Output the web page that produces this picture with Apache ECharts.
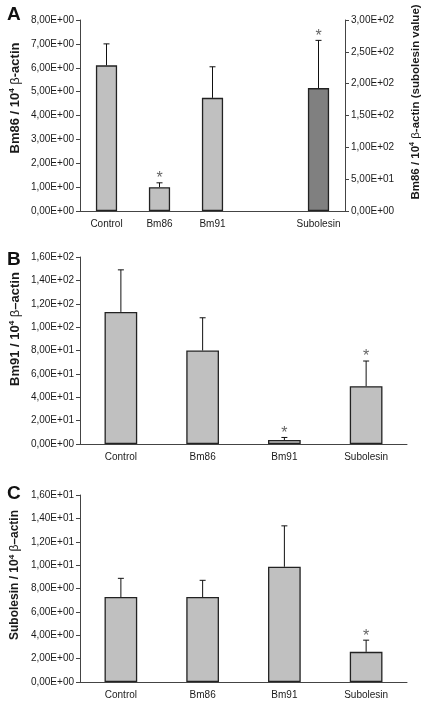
<!DOCTYPE html>
<html><head><meta charset="utf-8">
<script src="https://cdn.jsdelivr.net/npm/echarts@6/dist/echarts.min.js"></script>
<style>html,body{margin:0;padding:0;background:#fff}#c{width:423px;height:702px}</style>
</head><body><div id="c"></div>
<script>
// ---- Data ----
const categoriesA = ['Control', 'Bm86', 'Bm91', '', 'Subolesin'];
const bm86Left = [6.1, 1.0, 4.74, null, null];      // left axis
const bm86LeftSD = [0.9, 0.18, 1.3, null, null];
const bm86Right = [null, null, null, null, 193];    // right axis (subolesin value)
const bm86RightSD = [null, null, null, null, 75];
const sigA = [0, 1, 0, 0, 1];

const categoriesBC = ['Control', 'Bm86', 'Bm91', 'Subolesin'];
const bm91Values = [113, 80, 3.4, 49.5];
const bm91SD = [36, 28, 2.2, 21.5];
const sigB = [0, 0, 1, 1];

const subolesinValues = [7.27, 7.27, 9.86, 2.58];
const subolesinSD = [1.6, 1.43, 3.5, 1.0];
const sigC = [0, 0, 0, 1];

const axisA = {min: 0, max: 8, interval: 1};
const axisAR = {min: 0, max: 300, interval: 50};
const axisB = {min: 0, max: 160, interval: 20};
const axisC = {min: 0, max: 16, interval: 2};

// ---- Helpers ----
const FONT = 'Liberation Sans, Arial, sans-serif';
const TXT = '#1a1a1a';
function fmt(v) {
  const parts = v.toExponential(2).split('e');
  const e = parts[1];
  return parts[0].replace('.', ',') + 'E' + e[0] + e.slice(1).padStart(2, '0');
}
function errData(vals, sds, sig) {
  const out = [];
  vals.forEach((v, i) => { if (v != null) out.push([i, v, sds[i], sig[i]]); });
  return out;
}
function renderErr(params, api) {
  const i = api.value(0), v = api.value(1), sd = api.value(2), s = api.value(3);
  const base = api.coord([i, v]);
  const top = api.coord([i, v + sd]);
  const cap = 3;
  const children = [
    {type: 'line', shape: {x1: base[0], y1: base[1], x2: top[0], y2: top[1]}, style: {stroke: '#111', lineWidth: 1}},
    {type: 'line', shape: {x1: top[0] - cap, y1: top[1], x2: top[0] + cap, y2: top[1]}, style: {stroke: '#111', lineWidth: 1}}
  ];
  if (s) children.push({type: 'text', x: top[0], y: top[1] + 4, style: {text: '*', fontSize: 16, fontFamily: FONT, fill: '#666', align: 'center', verticalAlign: 'bottom'}});
  return {type: 'group', children: children};
}
function xAx(idx, cats) {
  return {type: 'category', gridIndex: idx, data: cats,
    axisLine: {lineStyle: {color: '#444'}}, axisTick: {length: 4, lineStyle: {color: '#444'}},
    axisLabel: {color: TXT, fontSize: 10, fontFamily: FONT, margin: 8, interval: 0}};
}
function yAx(idx, cfg, pos) {
  return Object.assign({type: 'value', gridIndex: idx, position: pos || 'left',
    splitLine: {show: false},
    axisLine: {show: true, lineStyle: {color: '#444'}},
    axisTick: {show: true, length: 4, lineStyle: {color: '#444'}},
    axisLabel: {color: TXT, fontSize: 10, fontFamily: FONT, margin: 6, formatter: fmt}}, cfg);
}
const barStyle = {color: '#c0c0c0', borderColor: '#222', borderWidth: 1.3};
function richFor(size) {
  return {
    b: {fontSize: size, fontWeight: 'bold', fontFamily: FONT, color: TXT},
    sup: {fontSize: Math.round(size * 0.65), fontWeight: 'bold', fontFamily: FONT, color: TXT, verticalAlign: 'top', padding: [0, 0, 7, 0]},
    g: {fontSize: size, fontFamily: FONT, color: TXT}
  };
}
function title(x, y, text, size) {
  return {type: 'text', x: x, y: y, rotation: Math.PI / 2,
    style: {text: text, rich: richFor(size), align: 'center', verticalAlign: 'middle', fill: TXT, fontSize: size, fontFamily: FONT}};
}
function letter(x, y, t) {
  return {type: 'text', x: x, y: y, style: {text: t, fontSize: 19, fontWeight: 'bold', fontFamily: FONT, fill: '#111', verticalAlign: 'top'}};
}

const chart = echarts.init(document.getElementById('c'), null, {renderer: 'canvas'});
chart.setOption({
  animation: false,
  backgroundColor: '#fff',
  grid: [
    {left: 80, top: 20, width: 265, height: 191},
    {left: 80, top: 257, width: 327, height: 187},
    {left: 80, top: 495, width: 327, height: 187}
  ],
  xAxis: [xAx(0, categoriesA), xAx(1, categoriesBC), xAx(2, categoriesBC)],
  yAxis: [
    yAx(0, axisA),
    yAx(0, axisAR, 'right'),
    yAx(1, axisB),
    yAx(2, axisC)
  ],
  series: [
    {type: 'bar', xAxisIndex: 0, yAxisIndex: 0, data: bm86Left, barWidth: '40%', barGap: '-100%', itemStyle: barStyle},
    {type: 'bar', xAxisIndex: 0, yAxisIndex: 1, data: bm86Right, barWidth: '40%', barGap: '-100%', itemStyle: Object.assign({}, barStyle, {color: '#808080'})},
    {type: 'custom', xAxisIndex: 0, yAxisIndex: 0, data: errData(bm86Left, bm86LeftSD, sigA), renderItem: renderErr, z: 5},
    {type: 'custom', xAxisIndex: 0, yAxisIndex: 1, data: errData(bm86Right, bm86RightSD, sigA), renderItem: renderErr, z: 5},
    {type: 'bar', xAxisIndex: 1, yAxisIndex: 2, data: bm91Values, barWidth: '40%', itemStyle: barStyle},
    {type: 'custom', xAxisIndex: 1, yAxisIndex: 2, data: errData(bm91Values, bm91SD, sigB), renderItem: renderErr, z: 5},
    {type: 'bar', xAxisIndex: 2, yAxisIndex: 3, data: subolesinValues, barWidth: '40%', itemStyle: barStyle},
    {type: 'custom', xAxisIndex: 2, yAxisIndex: 3, data: errData(subolesinValues, subolesinSD, sigC), renderItem: renderErr, z: 5}
  ],
  graphic: [
    letter(7, 5, 'A'), letter(7, 250, 'B'), letter(7, 484, 'C'),
    title(15, 98, '{b|Bm86 / 10}{sup|4}{g| β}{b|-actin}', 13),
    title(416, 102, '{b|Bm86 / 10}{sup|4}{g| β}{b|-actin (subolesin value)}', 11.5),
    title(15, 329, '{b|Bm91 / 10}{sup|4}{g| β}{b|–actin}', 13),
    title(15, 575, '{b|Subolesin / 10}{sup|4}{g| β}{b|–actin}', 12)
  ]
});
</script></body></html>
